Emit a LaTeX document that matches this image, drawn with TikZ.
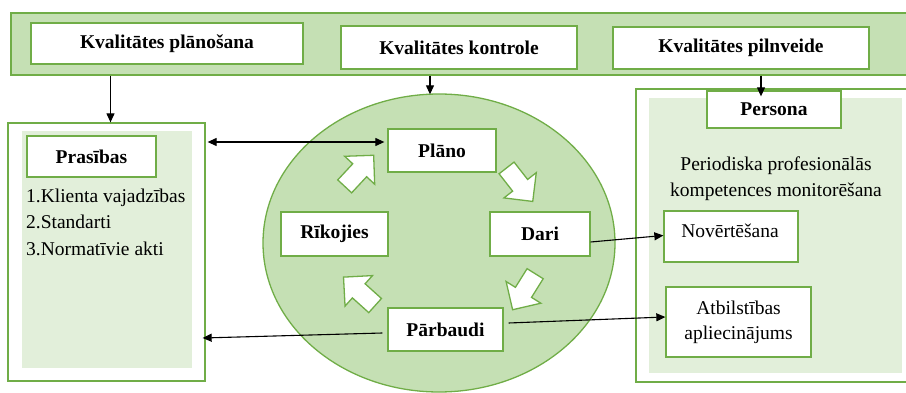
\documentclass[tikz,border=0pt]{standalone}
\usepackage{fontspec}
\setmainfont{Liberation Serif}
\usetikzlibrary{arrows.meta,calc,shapes.geometric}
\definecolor{leafgreen}{HTML}{70AD47}
\definecolor{bandfill}{HTML}{C5E0B4}
\definecolor{panelfill}{HTML}{E2EFDA}

\tikzset{
  cyclearrow/.pic={
    \draw[leafgreen,line width=1.3pt,fill=white,line join=miter]
      (-21,-9.5) -- (1,-9.5) -- (1,-20.5) -- (21.5,0) -- (1,20.5) -- (1,9.5) -- (-21,9.5) -- cycle;
  }
}

\begin{document}
\begin{tikzpicture}[x=1pt,y=-1pt,
  txt/.style={font=\fontsize{19.5}{25}\selectfont,inner sep=0pt,text=black},
  btxt/.style={font=\fontsize{19.5}{25}\selectfont\bfseries,inner sep=0pt,text=black},
  greenbox/.style={draw=leafgreen,line width=1.3pt,fill=white,inner sep=0pt},
  frame/.style={draw=leafgreen,line width=1.3pt,fill=white,inner sep=0pt},
  panel/.style={fill=panelfill,draw=none,inner sep=0pt},
  arr/.style={-{Triangle[length=9pt,width=8pt]},line width=1.1pt,black},
  darr/.style={{Triangle[length=9pt,width=8pt]}-{Triangle[length=9pt,width=8pt]},line width=1.1pt,black}
]
\useasboundingbox (0,0) rectangle (906,393);

% top band with the three stages
\node[draw=leafgreen,line width=1.5pt,fill=bandfill,minimum width=898,minimum height=62,inner sep=0pt] (band) at (460,44) {};
\node[greenbox,btxt,minimum width=272,minimum height=41] (plan) at (167,43.5) {Kvalitātes plānošana};
\node[greenbox,btxt,minimum width=236,minimum height=43] (ctrl) at (459,47.5) {Kvalitātes kontrole};
\node[greenbox,btxt,minimum width=256,minimum height=42] (impr) at (741,48) {Kvalitātes pilnveide};

% left: requirements
\node[frame,minimum width=197,minimum height=258] (lbox) at (106.5,252) {};
\node[panel,minimum width=170,minimum height=237] (lpanel) at (107,249.5) {};
\node[greenbox,btxt,minimum width=129,minimum height=41] (req) at (91.5,156.5) {Prasības};
\node[txt,anchor=base west] (req1) at (26,203) {1.Klienta vajadzības};
\node[txt,anchor=base west] (req2) at (26,229) {2.Standarti};
\node[txt,anchor=base west] (req3) at (26,255) {3.Normatīvie akti};

% centre: PDCA cycle
\node[ellipse,draw=leafgreen,line width=1.3pt,fill=bandfill,minimum width=352,minimum height=298,inner sep=0pt] (ell) at (439,243) {};
\node[greenbox,btxt,minimum width=108,minimum height=43] (plano) at (442,150.5) {Plāno};
\node[greenbox,btxt,minimum width=100,minimum height=44] (dari) at (540,234) {Dari};
\node[greenbox,btxt,minimum width=107,minimum height=44] (rik) at (334.5,234) {Rīkojies};
\node[greenbox,btxt,minimum width=115,minimum height=43] (parb) at (445.5,329.5) {Pārbaudi};

\pic[rotate=47] at (359,171) {cyclearrow};
\pic[rotate=-52] at (519.5,184.5) {cyclearrow};
\pic[rotate=-122] at (524,291.5) {cyclearrow};
\pic[rotate=138] at (359.5,291.5) {cyclearrow};

% right: person
\node[frame,minimum width=272,minimum height=293] (rbox) at (772,235.5) {};
\node[panel,minimum width=253,minimum height=275] (rpanel) at (775.5,235.5) {};
\node[greenbox,btxt,minimum width=134,minimum height=37] (pers) at (774,109.5) {Persona};
\node[txt,anchor=base] (mon1) at (776,171) {Periodiska profesionālās};
\node[txt,anchor=base] (mon2) at (776,197) {kompetences monitorēšana};
\node[greenbox,minimum width=134,minimum height=51] (nov) at (731,236.5) {};
\node[txt,anchor=base] (novt) at (730,238) {Novērtēšana};
\node[greenbox,txt,align=center,minimum width=145,minimum height=70] (atb) at (738.5,322) {Atbilstības\\apliecinājums};

% connectors
\draw[arr] ([xshift=4pt]lbox.north |- band.south) -- ([xshift=4pt]lbox.north);
\draw[arr] ([xshift=-9pt]ell.north |- band.south) -- ([xshift=-9pt,yshift=-1pt]ell.north);
\draw[arr] ([xshift=-13pt]pers.north |- band.south) -- ([xshift=-13pt,yshift=-6pt]pers.north);

\coordinate (upper) at (0,142);
\draw[darr] ([xshift=2pt]lbox.east |- upper) -- ([xshift=-3pt]plano.west |- upper);
\draw[arr] ([xshift=-5pt,yshift=-3.5pt]parb.west) -- ([xshift=-3pt,yshift=-86pt]lbox.east);
\draw[arr] ([yshift=-8pt]dari.east) -- ([yshift=1pt]nov.west);
\draw[arr] ([xshift=5pt,yshift=6.5pt]parb.east) -- ([yshift=5pt]atb.west);
\end{tikzpicture}
\end{document}
